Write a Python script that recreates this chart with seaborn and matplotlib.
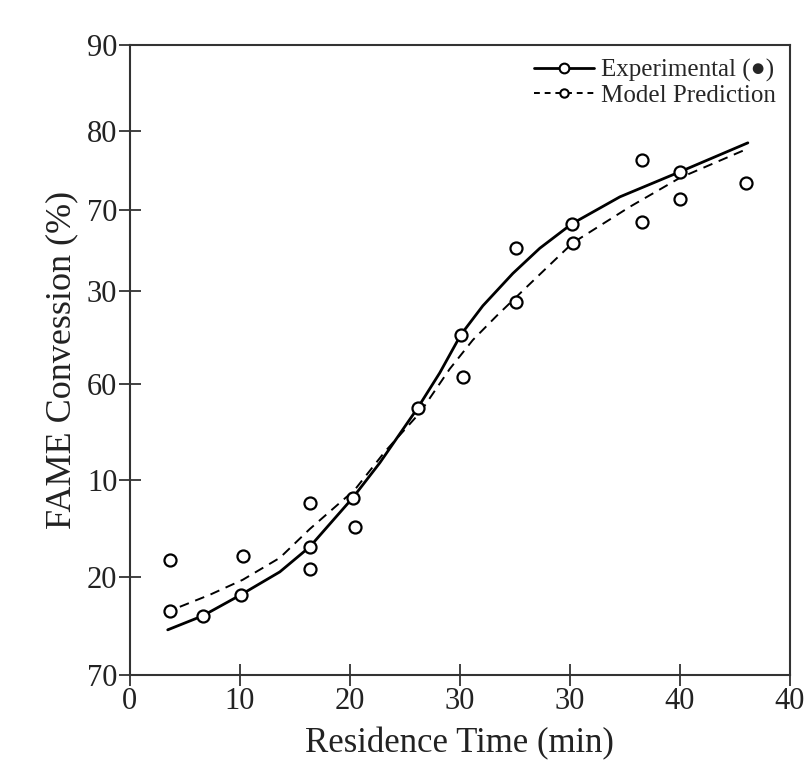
import matplotlib
matplotlib.use("Agg")
import matplotlib.pyplot as plt
from matplotlib.lines import Line2D
import seaborn as sns

sns.set_theme(style="white", rc={"xtick.bottom": True, "ytick.left": True})
plt.rcParams["font.family"] = ["Liberation Serif", "DejaVu Serif"]

# ── Data (x in axis positions, each tick step = 10) ─────────────────────────
x_ticks = [0, 10, 20, 30, 40, 50, 60]
x_tick_labels = ["0", "10", "20", "30", "30", "40", "40"]
y_ticks = [0, 10.9, 21.6, 32.3, 42.7, 51.7, 60.4, 70]
y_tick_labels = ["70", "20", "10", "60", "30", "70", "80", "90"]

exp_curve_x = [3.45, 6.64, 10.09, 13.64, 16.36, 20.27, 22.73, 26.18, 28.18,
               30.09, 32.09, 34.82, 37.27, 40.18, 44.55, 50.0, 56.18]
exp_curve_y = [5.0, 6.56, 8.89, 11.44, 14.22, 19.67, 23.56, 29.67, 33.56,
               37.78, 41.0, 44.6, 47.4, 50.11, 53.11, 55.89, 59.11]

exp_marker_x = [6.64, 10.09, 16.36, 20.27, 26.18, 30.09, 40.18, 50.0]
exp_marker_y = [6.56, 8.89, 14.22, 19.67, 29.67, 37.78, 50.11, 55.89]

model_curve_x = [4.55, 7.27, 10.27, 13.64, 16.36, 20.45, 23.18, 26.36, 29.09,
                 31.18, 33.36, 36.09, 38.18, 40.27, 45.45, 50.0, 55.91]
model_curve_y = [7.56, 8.89, 10.56, 13.0, 16.2, 20.56, 24.78, 29.11, 34.0,
                 37.2, 39.9, 43.11, 45.56, 48.0, 52.0, 55.22, 58.33]

scatter_x = [3.64, 3.64, 10.27, 16.36, 16.36, 20.45, 30.27, 35.09, 35.09,
             40.27, 46.55, 46.55, 50.0, 56.0]
scatter_y = [12.78, 7.11, 13.22, 19.11, 11.78, 16.44, 33.11, 47.44, 41.44,
             48.0, 57.22, 50.33, 52.89, 54.67]

# ── Plot ────────────────────────────────────────────────────────────────────
fig = plt.figure(figsize=(8.06, 7.73), dpi=100)
ax = fig.add_axes([0.161, 0.127, 0.819, 0.815])

sns.lineplot(x=model_curve_x, y=model_curve_y, ax=ax, color="black",
             linewidth=1.4, linestyle=(0, (5, 3.5)), sort=False)
sns.lineplot(x=exp_curve_x, y=exp_curve_y, ax=ax, color="black",
             linewidth=2.0, sort=False)
sns.scatterplot(x=scatter_x, y=scatter_y, ax=ax, s=75, marker="o",
                facecolor="white", edgecolor="black", linewidth=1.6, zorder=3)
sns.scatterplot(x=exp_marker_x, y=exp_marker_y, ax=ax, s=75, marker="o",
                facecolor="white", edgecolor="black", linewidth=1.6, zorder=4)

ax.set_xlim(0, 60)
ax.set_ylim(0, 70)
ax.set_xticks(x_ticks)
ax.set_xticklabels(x_tick_labels)
ax.set_yticks(y_ticks)
ax.set_yticklabels(y_tick_labels)
ax.tick_params(axis="both", direction="inout", length=16, width=1.3,
               labelsize=22, color="#333333", labelcolor="#222222", pad=1)
for sp in ax.spines.values():
    sp.set_color("#333333")
    sp.set_linewidth(1.5)

ax.set_xlabel("Residence Time (min)", fontsize=25, color="#222222", labelpad=8)
ax.set_ylabel("FAME Convession (%)", fontsize=26, color="#222222", labelpad=6)

handles = [
    Line2D([], [], color="black", linewidth=2.0, marker="o", markersize=7,
           markerfacecolor="white", markeredgewidth=1.5),
    Line2D([], [], color="black", linewidth=1.4, linestyle=(0, (3, 2.5)),
           marker="o", markersize=6, markerfacecolor="white",
           markeredgewidth=1.5),
]
ax.legend(handles, ["Experimental (\u25cf)", "Model Prediction"],
          loc="upper right", frameon=False, fontsize=18, handlelength=2.4,
          handletextpad=0.3, borderaxespad=0.15, labelspacing=0.1)

plt.savefig("out.png", dpi=100)
plt.close()
